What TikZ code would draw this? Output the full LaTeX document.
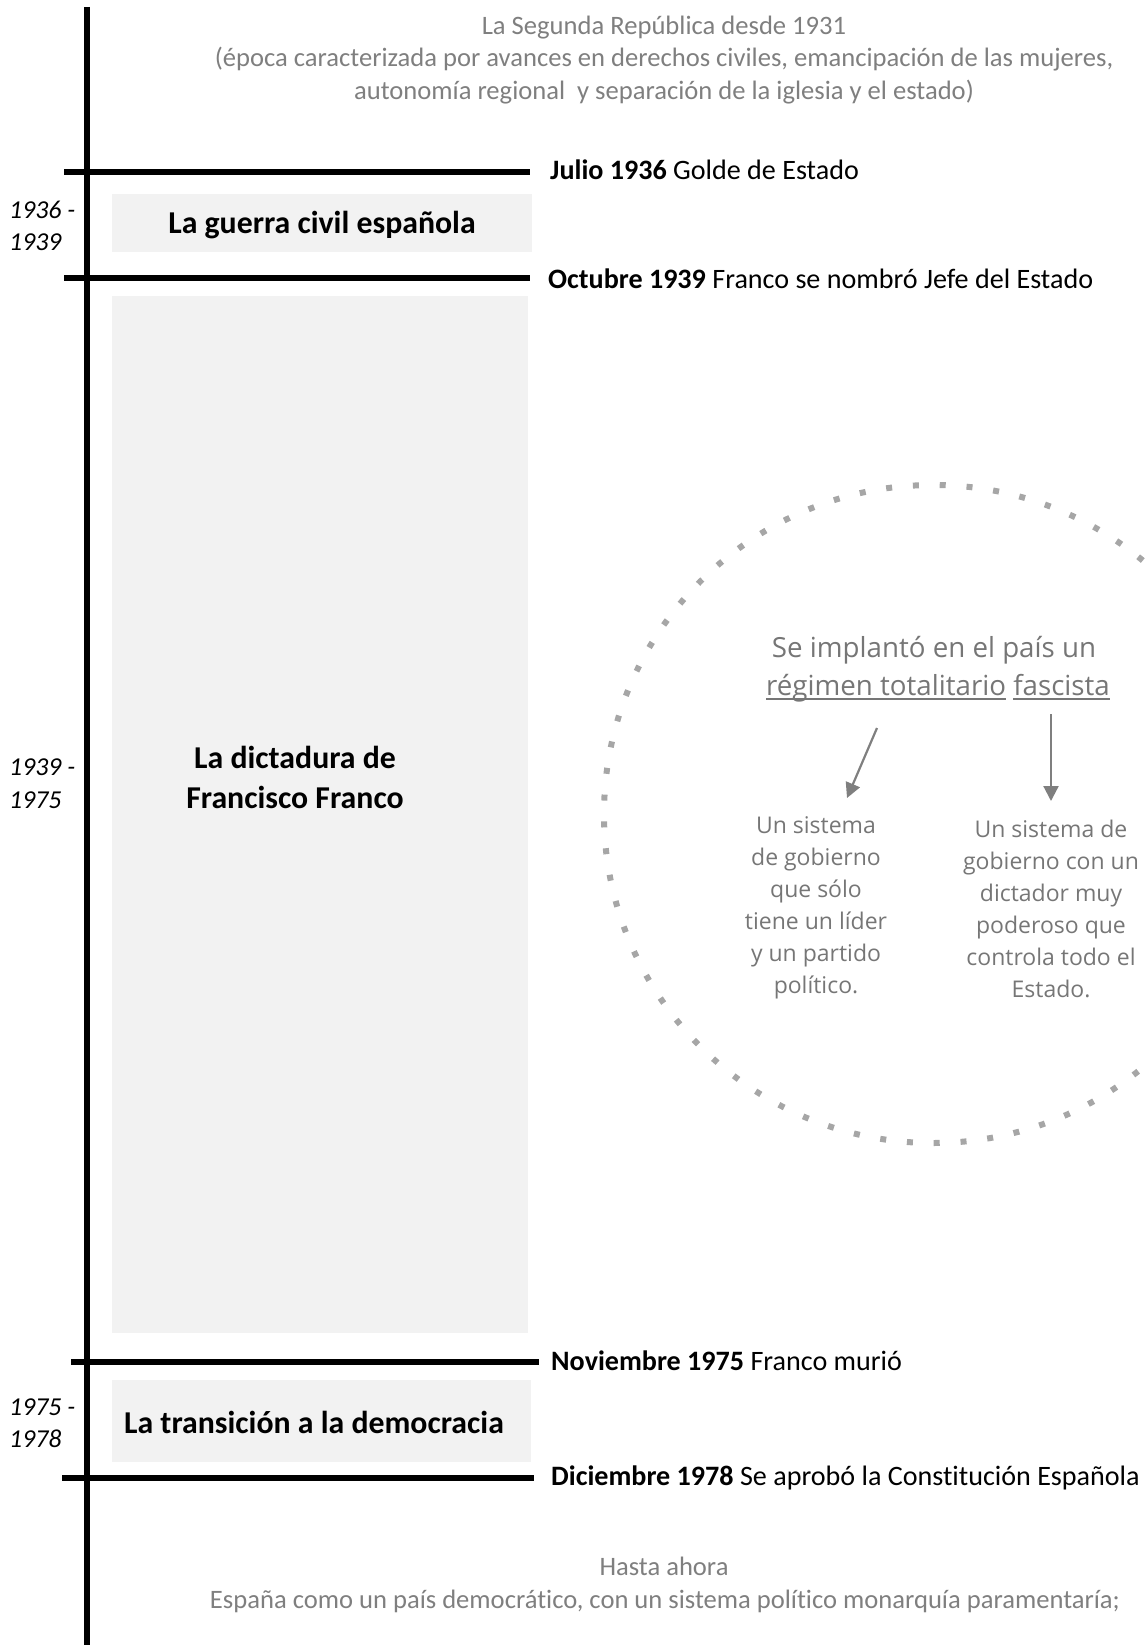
\documentclass[tikz,border=0pt]{standalone}
\usepackage{fontspec}
\setmainfont{Carlito}[Ligatures=NoCommon]
\newfontfamily\osans{Open Sans}
\usetikzlibrary{arrows.meta}
\definecolor{txtgray}{HTML}{7F7F7F}
\definecolor{circgray}{HTML}{767676}
\definecolor{dotgray}{HTML}{A6A6A6}
\definecolor{boxfill}{HTML}{F2F2F2}
\newcommand\myul[1]{\setbox0=\hbox{#1}\rlap{\rule[-5pt]{\wd0}{2pt}}\box0\relax}
\begin{document}
\begin{tikzpicture}[x=1pt,y=-1pt,
  axisline/.style={line width=6pt,black},
  tickline/.style={line width=6.3pt,black},
  pbox/.style={fill=boxfill,draw=none,inner sep=0pt},
  datetxt/.style={anchor=base west,inner sep=0pt,font=\fontsize{28.1}{34}\selectfont},
  boxlbl/.style={anchor=base,inner sep=0pt,font=\fontsize{31.8}{38}\selectfont\bfseries},
  yearlbl/.style={anchor=base west,inner sep=0pt,font=\fontsize{25.8}{31}\selectfont\itshape},
  graytxt/.style={anchor=base,inner sep=0pt,text=txtgray,font=\fontsize{26.6}{32}\selectfont},
  circtitle/.style={anchor=base,inner sep=0pt,text=circgray,font=\osans\fontsize{27.7}{38.5}\selectfont},
  circsub/.style={anchor=north,inner sep=0pt,align=center,text=circgray,font=\osans\fontsize{23}{32}\selectfont},
  dotring/.style={draw=dotgray,line width=6pt,dash pattern=on 6pt off 20.85pt},
  arr/.style={draw=txtgray,line width=2.2pt,-{Triangle[length=15pt,width=15pt]}}
]
\useasboundingbox (0,0) rectangle (1145,1645);
\begin{scope}
  \clip (0,0) rectangle (1145,1645);
  \draw[dotring] (933,814) circle[radius=329];
\end{scope}

% period boxes
\node[pbox,minimum width=420pt,minimum height=58pt] (box1) at (322,223) {};
\node[pbox,minimum width=416pt,minimum height=1037pt] (box2) at (320,814.5) {};
\node[pbox,minimum width=419pt,minimum height=82pt] (box3) at (321.5,1421) {};

% axis
\coordinate (axtop) at (87,7);
\coordinate (axbot) at (87,1645);
\draw[axisline] (axtop) -- (axbot);

% ticks
\coordinate (t1a) at (64,172);  \coordinate (t1b) at (530,172);
\coordinate (t2a) at (64,278);  \coordinate (t2b) at (530,278);
\coordinate (t3a) at (71,1362); \coordinate (t3b) at (539,1362);
\coordinate (t4a) at (62,1478); \coordinate (t4b) at (534,1478);
\draw[tickline] (t1a) -- (t1b);
\draw[tickline] (t2a) -- (t2b);
\draw[tickline] (t3a) -- (t3b);
\draw[tickline] (t4a) -- (t4b);

% dates
\node[datetxt] (d1) at (550,180) {\textbf{Julio 1936} Golde de Estado};
\node[datetxt] (d2) at (548,288) {\textbf{Octubre 1939} Franco se nombró Jefe del Estado};
\node[datetxt] (d3) at (551,1370) {\textbf{Noviembre 1975} Franco murió};
\node[datetxt] (d4) at (551,1485) {\textbf{Diciembre 1978} Se aprobó la Constitución Española};

% box labels
\node[boxlbl] (l1) at (322,234) {La guerra civil española};
\node[boxlbl] (l2a) at (295,768) {La dictadura de};
\node[boxlbl] (l2b) at (295,808) {Francisco Franco};
\node[boxlbl] (l3) at (314,1433) {La transición a la democracia};

% year labels
\node[yearlbl] (y1a) at (9,219) {1936 -};
\node[yearlbl] (y1b) at (9,251) {1939};
\node[yearlbl] (y2a) at (9,775) {1939 -};
\node[yearlbl] (y2b) at (9,808) {1975};
\node[yearlbl] (y3a) at (9,1415) {1975 -};
\node[yearlbl] (y3b) at (9,1447) {1978};

% top and bottom notes
\node[graytxt] (top1) at (664,35) {La Segunda República desde 1931};
\node[graytxt] (top2) at (664,67) {(época caracterizada por avances en derechos civiles, emancipación de las mujeres,};
\node[graytxt] (top3) at (664,100) {autonomía regional\ \ y separación de la iglesia y el estado)};
\node[graytxt] (bot1) at (664,1575) {Hasta ahora};
\node[graytxt] (bot2) at (665,1608) {España como un país democrático, con un sistema político monarquía paramentaría;};

% circle content
\node[circtitle] (c1) at (934,657) {Se implantó en el país un};
\node[circtitle] (c2) at (938,695) {\myul{régimen totalitario} \myul{fascista}};
\node[circsub] (s1) at (816,816.5) {Un sistema\\de gobierno\\que sólo\\tiene un líder\\y un partido\\político.};
\node[circsub] (s2) at (1051,819.5) {Un sistema de\\gobierno con un\\dictador muy\\poderoso que\\controla todo el\\Estado.};

\coordinate (a1s) at (877,728);  \coordinate (a1e) at (847,798);
\coordinate (a2s) at (1051,714); \coordinate (a2e) at (1051,801);
\draw[arr] (a1s) -- (a1e);
\draw[arr] (a2s) -- (a2e);
\end{tikzpicture}
\end{document}
